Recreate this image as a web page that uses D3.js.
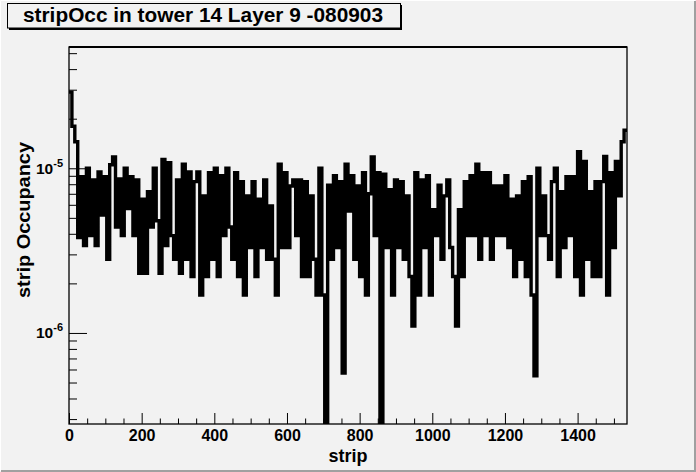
<!DOCTYPE html>
<html lang="en">
<head>
<meta charset="utf-8">
<title>stripOcc in tower 14 Layer 9</title>
<script src="https://d3js.org/d3.v7.min.js"></script>
<style>
	body{ margin:0; background:#f2f2f2; }
	text{ font-family:"Liberation Sans", Arial, Helvetica, sans-serif; font-weight:bold; }
</style>
</head>
<body>
<script>
// histogram contents: 192 bins of 8 strips each
var stripOcc = [
	2.9e-5, 1.8e-5, 1.45e-5, 3.8e-6, 8.9e-6, 3.4e-6, 1.0e-5, 3.9e-6, 8.5e-6, 3.4e-6,
	9.5e-6, 5.2e-6, 8.9e-6, 2.8e-6, 1.05e-5, 1.17e-5, 4.4e-6, 8.6e-6, 3.9e-6, 1.0e-5,
	5.7e-6, 8.9e-6, 3.9e-6, 8.5e-6, 2.3e-6, 6.5e-6, 2.3e-6, 7.2e-6, 4.4e-6, 1.0e-5,
	4.8e-6, 2.3e-6, 1.13e-5, 3.4e-6, 1.08e-5, 3.9e-6, 2.8e-6, 8.5e-6, 2.3e-6, 1.06e-5,
	2.8e-6, 9.5e-6, 2.2e-6, 8.3e-6, 9.5e-6, 1.7e-6, 6.8e-6, 2.2e-6, 9.4e-6, 2.8e-6,
	1.0e-5, 2.2e-6, 9e-6, 3.9e-6, 1.0e-5, 4.4e-6, 2.8e-6, 9.4e-6, 2.2e-6, 8.3e-6,
	1.7e-6, 6.8e-6, 3.3e-6, 8.3e-6, 2.2e-6, 6.5e-6, 3.3e-6, 8.5e-6, 2.8e-6, 5.9e-6,
	2.8e-6, 1.7e-6, 1.06e-5, 3.3e-6, 9.4e-6, 3.3e-6, 7.8e-6, 8.5e-6, 3.9e-6, 8.5e-6,
	2.2e-6, 8.3e-6, 2.2e-6, 6.8e-6, 2.8e-6, 1.7e-6, 1.0e-5, 1.7e-6, 0, 7.9e-6,
	2.8e-6, 9e-6, 3.3e-6, 8.3e-6, 5.7e-7, 1.06e-5, 5.5e-6, 9e-6, 2.8e-6, 7.8e-6,
	2.2e-6, 9.4e-6, 1.7e-6, 7e-6, 1.17e-5, 3.9e-6, 9.4e-6, 0, 9.2e-6, 3.3e-6,
	7.4e-6, 1.7e-6, 8.5e-6, 3.3e-6, 8.3e-6, 2.8e-6, 6.8e-6, 2.2e-6, 1.1e-6, 9.4e-6,
	1.7e-6, 8.5e-6, 3.3e-6, 9e-6, 1.7e-6, 5.6e-6, 3.9e-6, 7.9e-6, 2.8e-6, 6.8e-6,
	8.5e-6, 3.3e-6, 2.2e-6, 1.1e-6, 5.6e-6, 2.2e-6, 8.3e-6, 3.9e-6, 9e-6, 3.9e-6,
	1.06e-5, 2.8e-6, 9.4e-6, 3.9e-6, 9.4e-6, 2.8e-6, 7.8e-6, 3.9e-6, 7.8e-6, 3.9e-6,
	9e-6, 3.3e-6, 6.5e-6, 2.2e-6, 6.8e-6, 2.8e-6, 8.3e-6, 2.2e-6, 8.9e-6, 1.7e-6,
	5.5e-7, 1.0e-5, 3.9e-6, 6.8e-6, 3.9e-6, 2.8e-6, 8.3e-6, 1.0e-5, 2.2e-6, 7.2e-6,
	3.3e-6, 8.9e-6, 3.9e-6, 8.9e-6, 2.2e-6, 1.26e-5, 1.7e-6, 1.1e-5, 2.8e-6, 7.2e-6,
	2.2e-6, 8.3e-6, 2.2e-6, 8.3e-6, 1.18e-5, 1.7e-6, 9.4e-6, 3.3e-6, 1.1e-5, 6.8e-6,
	1.45e-5, 1.7e-5
]
var nStrips = 1536
var xTickValues = [0, 200, 400, 600, 800, 1000, 1200, 1400]
var yDecades = [1e-6, 1e-5]
var yDecadeExp = ["-6", "-5"]
var yRange = [2.8e-7, 5.45e-5]

var titleText = "stripOcc in tower 14 Layer 9 -080903"
var xTitle = "strip"
var yTitle = "strip Occupancy"

// canvas and frame
var w = 696, h = 472
var fLeft = 69, fRight = 627, fTop = 47, fBottom = 424

var svg = d3.select("body").append("svg")
	.attr("width", w)
	.attr("height", h)

svg.append("rect").attr("width", w).attr("height", h).attr("fill", "#f2f2f2")
// canvas bevel
svg.append("path").attr("d", "M0.5," + (h - 1) + " V0.5 H" + (w - 1))
	.attr("stroke", "#ffffff").attr("fill", "none")
svg.append("path").attr("d", "M1," + (h - 1) + " H" + (w - 1) + " V1")
	.attr("stroke", "#a0a0a0").attr("stroke-width", 2).attr("fill", "none")

var xScale = d3.scaleLinear().domain([0, nStrips]).range([fLeft, fRight])
var yScale = d3.scaleLog().domain(yRange).range([fBottom, fTop])

// clip
svg.append("clipPath").attr("id", "frameClip")
	.append("rect")
	.attr("x", fLeft).attr("y", fTop)
	.attr("width", fRight - fLeft).attr("height", fBottom - fTop)

// histogram as a step line
var binWidth = nStrips / stripOcc.length
var pts = stripOcc.map((v, i) => [i * binWidth, v])
pts.push([nStrips, stripOcc[stripOcc.length - 1]])

var histLine = d3.line()
	.x(d => xScale(d[0]))
	.y(d => d[1] > 0 ? yScale(d[1]) : fBottom + 3)   // empty bins drop out of the frame
	.curve(d3.curveStepAfter)

svg.append("path")
	.attr("clip-path", "url(#frameClip)")
	.attr("d", histLine(pts))
	.attr("fill", "none")
	.attr("stroke", "#000")
	.attr("stroke-width", 3.4)
	.attr("stroke-linejoin", "miter")

// x axis: minor ticks every 50, major every 200
var xMinor = d3.range(0, nStrips, 50).filter(v => v % 200 != 0)
svg.append("g")
	.attr("transform", "translate(0," + fBottom + ")")
	.call(d3.axisBottom(xScale).tickValues(xMinor).tickSizeInner(-5.5).tickSizeOuter(0).tickFormat(""))
	.call(g => g.select(".domain").remove())

var gx = svg.append("g")
	.attr("transform", "translate(0," + fBottom + ")")
	.call(d3.axisBottom(xScale).tickValues(xTickValues).tickSizeInner(-11).tickSizeOuter(0).tickPadding(5.5).tickFormat(d3.format("d")))
	.call(g => g.select(".domain").remove())
gx.attr("font-size", 16)
gx.selectAll("text").attr("fill", "#000")

// y axis: log, minor ticks at 2..9 per decade
var yAll = yScale.ticks()
var isDecade = t => Math.abs(Math.log10(t) - Math.round(Math.log10(t))) < 1e-9
svg.append("g")
	.attr("transform", "translate(" + fLeft + ",0)")
	.call(d3.axisLeft(yScale).tickValues(yAll.filter(t => !isDecade(t))).tickSizeInner(-8).tickSizeOuter(0).tickFormat(""))
	.call(g => g.select(".domain").remove())
svg.append("g")
	.attr("transform", "translate(" + fLeft + ",0)")
	.call(d3.axisLeft(yScale).tickValues(yDecades).tickSizeInner(-18).tickSizeOuter(0).tickFormat(""))
	.call(g => g.select(".domain").remove())

// decade labels 10^n
var yLab = svg.append("g").selectAll("text")
	.data(yDecades)
	.enter()
	.append("text")
	.attr("x", 63)
	.attr("y", d => yScale(d) + 5.5)
	.attr("text-anchor", "end")
	.attr("font-size", 15.5)
yLab.append("tspan").text("10")
yLab.append("tspan").attr("font-size", 11).attr("dy", -7).text((d, i) => yDecadeExp[i])

// frame
svg.append("rect")
	.attr("x", fLeft).attr("y", fTop)
	.attr("width", fRight - fLeft).attr("height", fBottom - fTop)
	.attr("fill", "none").attr("stroke", "#000").attr("stroke-width", 1.3)
svg.append("line")
	.attr("x1", fLeft).attr("x2", fRight).attr("y1", fTop).attr("y2", fTop)
	.attr("stroke", "#000").attr("stroke-width", 2)

// axis titles
svg.append("text")
	.attr("x", (fLeft + fRight) / 2)
	.attr("y", 462)
	.attr("text-anchor", "middle")
	.attr("font-size", 18)
	.text(xTitle)

svg.append("text")
	.attr("transform", "translate(30,220) rotate(-90)")
	.attr("text-anchor", "middle")
	.attr("font-size", 18)
	.attr("textLength", 156)
	.attr("lengthAdjust", "spacingAndGlyphs")
	.text(yTitle)

// title pave with shadow
svg.append("rect").attr("x", 9).attr("y", 5).attr("width", 393).attr("height", 25).attr("fill", "#000")
svg.append("rect").attr("x", 7.5).attr("y", 3.5).attr("width", 393).attr("height", 24.5)
	.attr("fill", "#f2f2f2").attr("stroke", "#000").attr("stroke-width", 1)
svg.append("text")
	.attr("x", 203)
	.attr("y", 22)
	.attr("text-anchor", "middle")
	.attr("font-size", 19.5)
	.attr("textLength", 360)
	.attr("lengthAdjust", "spacingAndGlyphs")
	.text(titleText)
</script>
</body>
</html>
